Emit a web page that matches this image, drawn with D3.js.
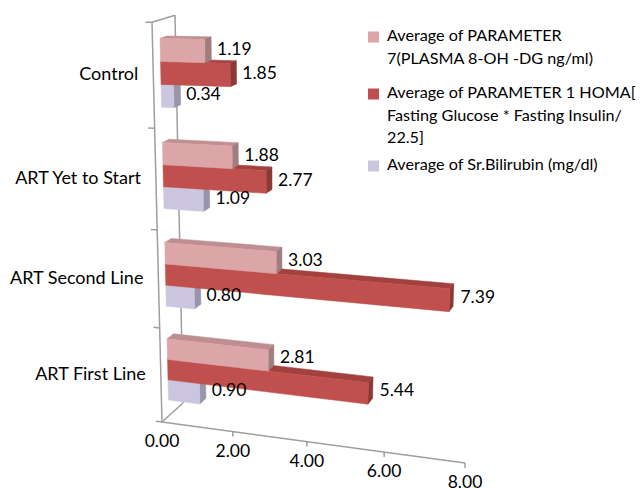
<!DOCTYPE html>
<html>
<head>
<meta charset="utf-8">
<script src="https://cdn.jsdelivr.net/npm/d3@7"></script>
<style>
  body { margin: 0; background: #ffffff; }
  svg { display: block; }
  text { font-family: Lato, "Open Sans", sans-serif; fill: #000; }
</style>
</head>
<body>
<svg id="chart" width="643" height="488"></svg>
<script>
// Categories listed from the floor upwards
const categories = ["ART First Line", "ART Second Line", "ART Yet to Start", "Control"];

// Series (legend order: top bar of each group first)
const seriesNames = [
  ["Average of PARAMETER", "7(PLASMA 8-OH -DG ng/ml)"],
  ["Average of PARAMETER 1 HOMA[", "Fasting Glucose * Fasting Insulin/", "22.5]"],
  ["Average of Sr.Bilirubin (mg/dl)"]
];
const plasma8OHdG = [2.81, 3.03, 1.88, 1.19];
const homaIR      = [5.44, 7.39, 2.77, 1.85];
const bilirubin   = [0.90, 0.80, 1.09, 0.34];
const seriesValues = [plasma8OHdG, homaIR, bilirubin];

const valueTicks = [0, 2, 4, 6, 8];

// Face shading per series: front, top, right end
const palette = [
  { front: "#DCA5A7", top: "#BE8E90", side: "#A07E7F" },
  { front: "#C0504D", top: "#A3413F", side: "#8C3936" },
  { front: "#CCC5DF", top: "#ADA6C1", side: "#9894A9" }
];

const svg = d3.select("#chart");

// ---- perspective camera: world (u along value, v up, w into depth), all 0..1
const O = [162, 422, 1];
const AX = [263.9, 2.06, -0.0841];
const AY = [-21.6, -401.4, -0.0763];
const AZ = [26.9, -6.0, 0.0323];
function project(u, v, w) {
  const h = [0, 1, 2].map(i => O[i] + AX[i] * u + AY[i] * v + AZ[i] * w);
  return [h[0] / h[2], h[1] / h[2]];
}

const x = d3.scaleLinear().domain([0, 8]).range([0, 1]);
const yBand = d3.scaleBand().domain(categories).range([0, 1])
  .paddingInner(0.344).paddingOuter(0.172);
// within a group: bilirubin lowest, HOMA middle, 8-OH-dG on top
const sBand = d3.scaleBand().domain([2, 1, 0]).range([0, yBand.bandwidth()]);
const zFront = 0.32, zBack = 0.62;

const line = d3.line();
const axisColor = "#9E9E9E";

// ---- walls, floor edge and axes
const gAxis = svg.append("g").attr("fill", "none").attr("stroke", axisColor).attr("stroke-width", 1.5);
gAxis.append("path").attr("d", line([project(0, 0, 0), project(0, 1, 0)]));
gAxis.append("path").attr("d", line([project(0, 0, 1), project(0, 1, 1)]));
gAxis.append("path").attr("d", line([project(0, 1, 0), project(0, 1, 1)]));
gAxis.append("path").attr("d", line([project(0, 0, 0), project(0, 0, 1)]));
gAxis.append("path").attr("d", line([project(0, 0, 0), project(1, 0, 0)]));

// category axis tick marks at band boundaries
const catBounds = [0, 0.25, 0.5, 0.75, 1];
catBounds.forEach(b => {
  gAxis.append("path").attr("d", line([project(0, b, 0), project(-0.022, b, 0)]));
});

// value axis ticks and labels
const fmt = d3.format(".2f");
valueTicks.forEach(t => {
  const p = project(x(t), 0, 0);
  if (t > 0) gAxis.append("path").attr("d", line([p, [p[0], p[1] + 5]]));
  svg.append("text")
    .attr("x", p[0]).attr("y", p[1] + 21)
    .attr("text-anchor", "middle").attr("dominant-baseline", "middle")
    .attr("font-size", 17.5)
    .text(fmt(t));
});

// category labels
categories.forEach(c => {
  const p = project(0, yBand(c) + yBand.bandwidth() / 2, 0);
  svg.append("text")
    .attr("x", p[0] - 15).attr("y", p[1])
    .attr("text-anchor", "end").attr("dominant-baseline", "middle")
    .attr("font-size", 18)
    .text(c);
});

// ---- 3D bars
function signedArea(pts) {
  let s = 0;
  for (let i = 0; i < pts.length; i++) {
    const a = pts[i], b = pts[(i + 1) % pts.length];
    s += a[0] * b[1] - b[0] * a[1];
  }
  return s / 2;
}

const gBars = svg.append("g");
const labels = [];
categories.forEach((c, ci) => {
  [2, 1, 0].forEach(si => {
    const val = seriesValues[si][ci];
    const u1 = x(val);
    const v0 = yBand(c) + sBand(si), v1 = v0 + sBand.bandwidth();
    const faces = [
      { pts: [[0, v1, zFront], [u1, v1, zFront], [u1, v1, zBack], [0, v1, zBack]], fill: palette[si].top },
      { pts: [[u1, v0, zFront], [u1, v0, zBack], [u1, v1, zBack], [u1, v1, zFront]], fill: palette[si].side },
      { pts: [[0, v0, zFront], [u1, v0, zFront], [u1, v1, zFront], [0, v1, zFront]], fill: palette[si].front }
    ];
    faces.forEach(f => {
      const pts = f.pts.map(q => project(q[0], q[1], q[2]));
      if (signedArea(pts) < 0) {
        gBars.append("path")
          .attr("d", line(pts) + "Z")
          .attr("fill", f.fill)
          .attr("stroke", f.fill).attr("stroke-width", 0.5).attr("stroke-linejoin", "round");
      }
    });
    const anchor = project(u1, (v0 + v1) / 2, (zFront + zBack) / 2);
    labels.push({ p: anchor, text: fmt(val) });
  });
});

// value labels next to each bar end
labels.forEach(l => {
  svg.append("text")
    .attr("x", l.p[0] + 9).attr("y", l.p[1] + 1)
    .attr("dominant-baseline", "middle")
    .attr("font-size", 17.5)
    .text(l.text);
});

// ---- legend
const legendTop = [37, 94, 166];
const gLeg = svg.append("g");
seriesNames.forEach((lines, si) => {
  gLeg.append("rect")
    .attr("x", 368).attr("y", legendTop[si] - 5.5)
    .attr("width", 11).attr("height", 11)
    .attr("fill", palette[si].front);
  lines.forEach((t, li) => {
    gLeg.append("text")
      .attr("x", 387).attr("y", legendTop[si] + li * 22.5)
      .attr("dominant-baseline", "middle")
      .attr("font-size", 16.2)
      .text(t);
  });
});
</script>
</body>
</html>
